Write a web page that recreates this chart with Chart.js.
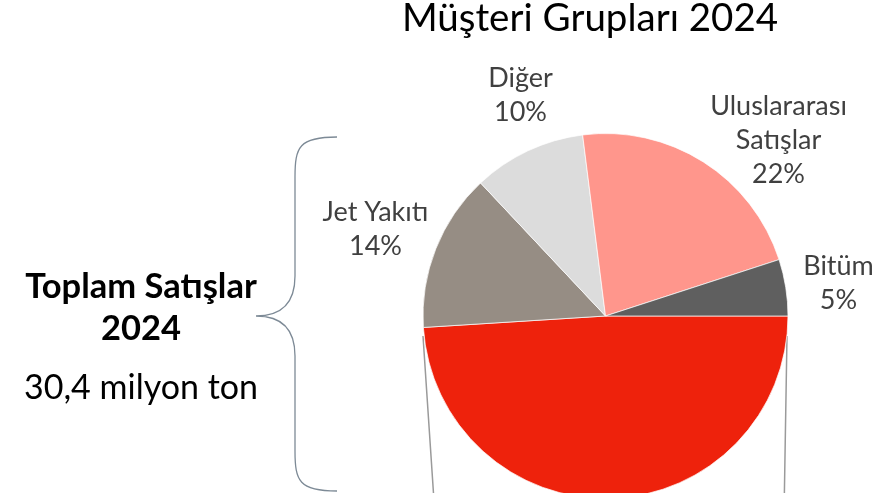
<!DOCTYPE html>
<html>
<head>
<meta charset="utf-8">
<script src="https://cdn.jsdelivr.net/npm/chart.js@4.4.0/dist/chart.umd.min.js"></script>
<style>
  html, body { margin: 0; padding: 0; background: #fff; }
  #wrap { position: relative; width: 887px; height: 493px; overflow: hidden; font-family: Lato, "Open Sans", sans-serif; }
  #grafico { position: absolute; left: 0; top: 0; }
  .txt { position: absolute; white-space: nowrap; transform: translateX(-50%); text-align: center; }
  #titulo { left: 590px; top: -6px; font-size: 38.5px; line-height: 44px; color: #000; }
  #total1 { left: 141px; top: 264px; font-size: 34.5px; font-weight: 700; color: #000; line-height: 42px; }
  #total2 { left: 141px; top: 366px; font-size: 34px; line-height: 40px; color: #000; }
</style>
</head>
<body>
<div id="wrap">
  <canvas id="grafico" width="887" height="560" style="width:887px;height:560px"></canvas>
  <div id="titulo" class="txt">Müşteri Grupları 2024</div>
  <div id="total1" class="txt">Toplam Satışlar<br>2024</div>
  <div id="total2" class="txt">30,4 milyon ton</div>
</div>
<script>
// Datos (porcentaje por grupo de clientes)
const categorias = ['Yurt İçi Satışlar', 'Jet Yakıtı', 'Diğer', 'Uluslararası Satışlar', 'Bitüm'];
const etiquetas = [[], ['Jet Yakıtı'], ['Diğer'], ['Uluslararası', 'Satışlar'], ['Bitüm']];
const valores = [49, 14, 10, 22, 5];
const colores = ['#ee220c', '#968d84', '#dcdcdc', '#ff968c', '#5f5f5f'];

// posiciones de las etiquetas (centro del bloque, relativo al centro de la torta)
const posEtiquetas = [null, [-230, -87], [-85, -221], [173, -176], [233, -33]];

const decoraciones = {
  id: 'decoraciones',
  beforeDatasetsDraw(chart) {
    const { ctx } = chart;
    const arc = chart.getDatasetMeta(0).data[0];
    const cx = arc.x, cy = arc.y, r = arc.outerRadius;
    ctx.save();
    // lineas hacia el detalle inferior
    ctx.strokeStyle = '#9a9a9a';
    ctx.lineWidth = 1.5;
    ctx.beginPath();
    ctx.moveTo(cx - r, cy + 20);
    ctx.lineTo(cx - r + 12, cy + 200);
    ctx.moveTo(cx + r - 1, cy + 20);
    ctx.lineTo(cx + r - 4, cy + 200);
    ctx.stroke();

    // llave izquierda
    ctx.strokeStyle = '#7d8a96';
    ctx.lineWidth = 1.3;
    const x0 = 337, xv = 295, xt = 256, yt = 316, y1 = 137, y2 = 491;
    ctx.beginPath();
    ctx.moveTo(x0, y1);
    ctx.bezierCurveTo(xv + 4, y1, xv, y1 + 10, xv, y1 + 40);
    ctx.lineTo(xv, yt - 40);
    ctx.bezierCurveTo(xv, yt - 8, xt + 20, yt, xt, yt);
    ctx.bezierCurveTo(xt + 20, yt, xv, yt + 8, xv, yt + 40);
    ctx.lineTo(xv, y2 - 40);
    ctx.bezierCurveTo(xv, y2 - 10, xv + 4, y2, x0, y2);
    ctx.stroke();
    ctx.restore();
  },
  afterDatasetsDraw(chart) {
    const { ctx } = chart;
    const arc = chart.getDatasetMeta(0).data[0];
    const cx = arc.x, cy = arc.y;
    const total = valores.reduce((a, b) => a + b, 0);
    ctx.save();
    ctx.fillStyle = '#404040';
    ctx.font = '27px Lato, "Open Sans", sans-serif';
    ctx.textAlign = 'center';
    ctx.textBaseline = 'middle';
    const lh = 34;
    valores.forEach((v, i) => {
      if (!posEtiquetas[i]) return;
      const lineas = etiquetas[i].concat([Math.round(v / total * 100) + '%']);
      const x = cx + posEtiquetas[i][0];
      const y0 = cy + posEtiquetas[i][1] - (lineas.length - 1) * lh / 2;
      lineas.forEach((t, k) => ctx.fillText(t, x, y0 + k * lh));
    });
    ctx.restore();
  }
};

new Chart(document.getElementById('grafico'), {
  type: 'pie',
  data: {
    labels: categorias,
    datasets: [{
      data: valores,
      backgroundColor: colores,
      borderColor: 'rgba(255,255,255,0.7)',
      borderWidth: 1
    }]
  },
  options: {
    responsive: false,
    animation: false,
    rotation: 90,
    layout: { padding: { left: 422, right: 98, top: 133, bottom: 61 } },
    plugins: {
      legend: { display: false },
      tooltip: { enabled: false }
    }
  },
  plugins: [decoraciones]
});
</script>
</body>
</html>
